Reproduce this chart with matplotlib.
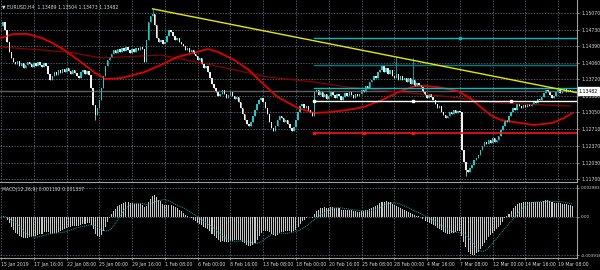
import numpy as np
import pandas as pd
import matplotlib
matplotlib.use("Agg")
import matplotlib.pyplot as plt
import matplotlib.transforms as mtransforms

# EURUSD H4 closes (one per bar)
closes = [
    1.14802, 1.14883, 1.14721, 1.14477, 1.14274, 1.14153, 1.14071,
    1.14031, 1.14092, 1.13990, 1.14051, 1.13950, 1.14010, 1.14071, 1.14031,
    1.13970, 1.14051, 1.13990, 1.14071, 1.14010, 1.13970, 1.14051, 1.13990,
    1.13828, 1.13706,
    1.13787, 1.13868, 1.13807, 1.13909, 1.13848, 1.13929, 1.13868, 1.13950,
    1.13889, 1.13828, 1.13909, 1.13848, 1.13787, 1.13747,
    1.13868, 1.13909, 1.13828, 1.13889, 1.13807,
    1.13544, 1.13198, 1.12995,
    1.13138, 1.13300, 1.13544, 1.13787, 1.13990, 1.14112, 1.14173,
    1.14234, 1.14315, 1.14254, 1.14335, 1.14274, 1.14356, 1.14295, 1.14376,
    1.14315, 1.14254, 1.14335, 1.14274, 1.14356, 1.14315, 1.14376, 1.14335,
    1.14071,
    1.14518, 1.14883, 1.15005,
    1.15046,
    1.14822, 1.14559, 1.14477,
    1.14518, 1.14437, 1.14477,
    1.14599, 1.14721, 1.14680,
    1.14599, 1.14518, 1.14559, 1.14477, 1.14437,
    1.14396, 1.14315, 1.14356, 1.14274, 1.14315, 1.14234, 1.14193,
    1.14112, 1.14153, 1.14031, 1.13950, 1.13990, 1.13868, 1.13747, 1.13625, 1.13544,
    1.13462, 1.13381, 1.13422, 1.13503, 1.13422, 1.13341, 1.13401, 1.13462,
    1.13381, 1.13320, 1.13361, 1.13259,
    1.13138, 1.13016, 1.12894, 1.12813, 1.12772, 1.12853,
    1.12975, 1.13097, 1.13219, 1.13300, 1.13341, 1.13259,
    1.13138, 1.13016, 1.12853, 1.12732, 1.12671, 1.12772,
    1.12894, 1.12975, 1.12935, 1.12853, 1.12894, 1.12813,
    1.12732, 1.12671, 1.12752,
    1.12894, 1.13056, 1.13178, 1.13219,
    1.13138, 1.13178, 1.13097, 1.13056, 1.12975,
    1.13462,
    1.13503, 1.13401, 1.13462, 1.13361, 1.13422, 1.13320, 1.13381, 1.13462,
    1.13401, 1.13341, 1.13422, 1.13381, 1.13300, 1.13361, 1.13442, 1.13381,
    1.13462, 1.13401, 1.13341, 1.13422, 1.13381,
    1.13422, 1.13503, 1.13462, 1.13584, 1.13544, 1.13665, 1.13706, 1.13787,
    1.13747, 1.13868,
    1.13909, 1.13990, 1.13868, 1.13950, 1.13828, 1.13909, 1.13787,
    1.13747, 1.13828, 1.13706, 1.13787, 1.13706, 1.13747,
    1.13665, 1.13747, 1.13625, 1.13706, 1.13584, 1.13645, 1.13604, 1.13564,
    1.13462, 1.13401, 1.13341, 1.13422, 1.13361, 1.13300,
    1.13219, 1.13138, 1.13178, 1.13056, 1.12995, 1.12935, 1.12975,
    1.13056, 1.13016, 1.13097, 1.13036, 1.13077, 1.13056,
    1.12285,
    1.12041, 1.11879, 1.11838,
    1.11920, 1.11980, 1.12082, 1.12123, 1.12183,
    1.12285, 1.12366, 1.12447, 1.12407, 1.12488,
    1.12427, 1.12529, 1.12447, 1.12488, 1.12569,
    1.12691, 1.12772, 1.12894, 1.12853, 1.12975,
    1.13056, 1.13138, 1.13097, 1.13219, 1.13178,
    1.13138, 1.13198, 1.13158, 1.13219, 1.13178,
    1.13219, 1.13280, 1.13239, 1.13320, 1.13300, 1.13361,
    1.13442, 1.13503, 1.13462,
    1.13401, 1.13341, 1.13381,
    1.13462, 1.13503, 1.13442, 1.13483, 1.13523, 1.13462, 1.13503, 1.13489, 1.13482,
]
wick_hi = {74: 1.15150, 193: 1.14173, 201: 1.14153, 279: 1.13504}
wick_lo = {46: 1.12894, 227: 1.11757, 279: 1.13473}

# moving averages, read at a few bars
fast_ma_bar = [0, 6, 13, 20, 26, 31, 39, 46, 51, 59, 70, 78, 86, 94, 101, 106, 114,
               121, 127, 135, 145, 153, 161, 169, 177, 186, 194, 202, 207, 213, 223,
               229, 233, 239, 244, 260, 269, 275, 279]
fast_ma = [1.14559, 1.14640, 1.14640, 1.14559, 1.14437, 1.14315, 1.14071, 1.13848,
           1.13726, 1.13747, 1.13868, 1.14010, 1.14173, 1.14254, 1.14335, 1.14274,
           1.14112, 1.13909, 1.13665, 1.13361, 1.13138, 1.13036, 1.13056, 1.13097,
           1.13158, 1.13300, 1.13462, 1.13584, 1.13584, 1.13564, 1.13483, 1.13341,
           1.13198, 1.12995, 1.12894, 1.12793, 1.12833, 1.12935, 1.13036]
slow_ma_bar = [0, 33, 49, 78, 103, 130, 153, 169, 195, 220, 244, 278]
slow_ma = [1.14376, 1.14274, 1.14153, 1.14213, 1.14010, 1.13767, 1.13665, 1.13564,
           1.13462, 1.13361, 1.13239, 1.13178]

trend_bar = [74, 282]
trend_price = [1.15150, 1.13442]

level_start = 153
cyan_levels = [1.14559, 1.14010, 1.13544]
white_level = 1.13280
red_level = 1.12630
bid = 1.13482

price_ticks = [1.15070, 1.14730, 1.14390, 1.14060, 1.13720, 1.13380, 1.13050,
               1.12710, 1.12370, 1.12030, 1.11700]
macd_ticks = [0.002983, 0.0, -0.003918]
macd_tick_labels = ["0.002983", "0.00", "-0.003918"]
time_labels = ["15 Jan 2019", "17 Jan 16:00", "22 Jan 08:00", "25 Jan 00:00",
               "29 Jan 16:00", "1 Feb 08:00", "6 Feb 00:00", "8 Feb 16:00",
               "13 Feb 08:00", "18 Feb 00:00", "20 Feb 16:00", "25 Feb 08:00",
               "28 Feb 00:00", "4 Mar 16:00", "7 Mar 08:00", "12 Mar 00:00",
               "14 Mar 16:00", "19 Mar 08:00"]

c = np.array(closes)
n = len(c)
o = np.r_[c[0], c[:-1]]
h = np.maximum(o, c)
l = np.minimum(o, c)
for k, v in wick_hi.items():
    h[k] = v
for k, v in wick_lo.items():
    l[k] = v
bars = np.arange(n)

s = pd.Series(c)
macd = s.ewm(span=12, adjust=False).mean() - s.ewm(span=26, adjust=False).mean()
signal = macd.rolling(9, min_periods=1).mean()

BG = "black"
FG = "#d8d8d8"
GRID = "#6f7f8f"
fs = 3.3

fig = plt.figure(figsize=(6, 2.7), dpi=100, facecolor=BG)
ax = fig.add_axes([0, 88 / 270, 577 / 600, 182 / 270], facecolor=BG)
ax2 = fig.add_axes([0, 12 / 270, 577 / 600, 73 / 270], facecolor=BG)

xticks = np.arange(0, 16 * len(time_labels), 16)
for a in (ax, ax2):
    a.set_xlim(-0.5, 281.2)
    a.set_xticks(xticks)
    a.grid(True, color=GRID, linestyle=(0, (2, 2)), linewidth=0.5)
    a.set_axisbelow(True)
    for side in ("left", "top"):
        a.spines[side].set_visible(False)
    for side in ("right", "bottom"):
        a.spines[side].set_color("#a0a0a0")
        a.spines[side].set_linewidth(0.8)
    a.yaxis.tick_right()
    a.tick_params(colors=FG, labelsize=fs, length=1.5, width=0.4, pad=1.5)

# main window
ax.set_ylim(1.11636, 1.15330)
ax.set_yticks(price_ticks)
ax.set_yticklabels([f"{p:.5f}" for p in price_ticks])
ax.set_xticklabels([])
ax.tick_params(axis="x", length=0)

ax.plot(slow_ma_bar, slow_ma, color="#8b0000", lw=0.9)
ax.plot(fast_ma_bar, fast_ma, color="#e00000", lw=1.3)

up = c >= o
cols = np.where(up, "#20c8c8", "#f0f0f0")
body_h = np.maximum(np.abs(c - o), 0.00006)
ax.vlines(bars, l, h, colors=cols, lw=0.5)
ax.bar(bars, body_h, bottom=np.minimum(o, c), width=0.7, color=cols, linewidth=0)

ax.axhline(bid, color="#606060", lw=1.0, zorder=1)
x_end = 281.2
for lev, col in zip(cyan_levels, ["#00bcc0", "#007f84", "#00bcc0"]):
    ax.plot([level_start, x_end], [lev, lev], color=col, lw=1.0)
ax.plot([level_start, x_end], [white_level, white_level], color="white", lw=1.0)
ax.plot([level_start, x_end], [red_level, red_level], color="#ff1010", lw=1.2)
ax.plot([224], [cyan_levels[0]], "s", color="#00bcc0", ms=2)
ax.plot([153, 201, 249], [white_level] * 3, "s", color="white", ms=2)
ax.plot([153, 177, 201], [red_level] * 3, "s", color="#ff1010", ms=2)
ax.plot(trend_bar, trend_price, color="#e8e800", lw=1.0)

trans = mtransforms.blended_transform_factory(ax.transAxes, ax.transData)
ax.text(1.003, bid, f"{bid:.5f}", transform=trans, fontsize=fs, color="black",
        va="center", ha="left",
        bbox=dict(boxstyle="square,pad=0.25", fc="white", ec="white"))
fig.text(0.004, 0.985, "\u25bc EURUSD,H4  1.13489 1.13504 1.13473 1.13482",
         fontsize=fs, color=FG, va="top", ha="left")

# MACD window
ax2.set_ylim(-0.00422, 0.00329)
ax2.bar(bars, macd, width=0.5, color="#c8c8c8", linewidth=0)
ax2.plot(bars, signal, color="#1fa5a5", lw=0.7, linestyle=(0, (1, 1)))
ax2.set_yticks(macd_ticks)
ax2.set_yticklabels(macd_tick_labels)
ax2.tick_params(axis="y", labelsize=3.0, pad=1.0)
ax2.set_xticklabels(time_labels)
for t in ax2.get_xticklabels():
    t.set_horizontalalignment("left")
ax2.text(0.004, 0.97, "MACD(12,26,9) 0.001192 0.001337", transform=ax2.transAxes,
         fontsize=fs, color=FG, va="top", ha="left")

fig.savefig("out.png", dpi=100, facecolor=BG)
